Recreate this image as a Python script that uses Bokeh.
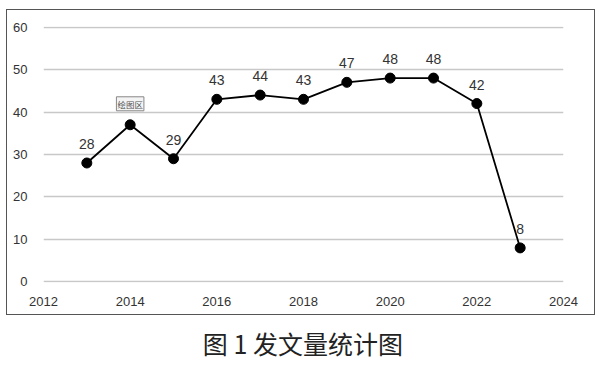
from bokeh.plotting import figure
from bokeh.layouts import column, row
from bokeh.models import ColumnDataSource, Range1d, FixedTicker, Label, LabelSet, Spacer
from bokeh.core.properties import value
from bokeh.embed import file_html
from bokeh.resources import INLINE

years = [2013, 2014, 2015, 2016, 2017, 2018, 2019, 2020, 2021, 2022, 2023]
counts = [28, 37, 29, 43, 44, 43, 47, 48, 48, 42, 8]
point_labels = ["28", "", "29", "43", "44", "43", "47", "48", "48", "42", "8"]
x_ticks = [2012, 2014, 2016, 2018, 2020, 2022, 2024]
y_ticks = [0, 10, 20, 30, 40, 50, 60]
caption = "图 1 发文量统计图"
tooltip_year = 2014
tooltip_value = 37
tooltip_text = "绘图区"

src = ColumnDataSource(dict(x=years, y=counts, t=point_labels))

p = figure(width=589, height=306, x_range=Range1d(2012, 2024), y_range=Range1d(-0.15, 60.15),
           output_backend="svg", toolbar_location=None,
           min_border_left=36, min_border_right=33, min_border_top=16, min_border_bottom=34,
           styles={"border": "1px solid #555555"})
p.outline_line_color = None
p.background_fill_color = "white"
p.border_fill_color = "white"

for ax in (p.xaxis[0], p.yaxis[0]):
    ax.axis_line_color = None
    ax.major_tick_line_color = None
    ax.minor_tick_line_color = None
    ax.major_label_text_font = "Liberation Sans"
    ax.major_label_text_font_size = "13px"
    ax.major_label_text_color = "#333333"
p.xaxis[0].ticker = FixedTicker(ticks=x_ticks)
p.yaxis[0].ticker = FixedTicker(ticks=y_ticks)
p.xaxis[0].major_label_standoff = 8
p.yaxis[0].major_label_standoff = 10

p.xgrid.grid_line_color = None
p.ygrid.ticker = FixedTicker(ticks=y_ticks)
p.ygrid.grid_line_color = "#c8c8c8"
p.ygrid.grid_line_width = 1.3

p.line("x", "y", source=src, line_color="black", line_width=1.8)
p.scatter("x", "y", source=src, size=10, fill_color="black", line_color="black")

labels = LabelSet(x="x", y="y", text="t", source=src, y_offset=14, text_align="center",
                  text_baseline="bottom", text_font=value("Liberation Sans"),
                  text_font_size=value("14px"), text_color="#333333")
p.add_layout(labels)

tip = Label(x=tooltip_year, y=tooltip_value, text=tooltip_text, y_offset=21, text_align="center",
            text_baseline="middle", text_font="Noto Sans CJK SC", text_font_size="8.5px",
            text_color="#555555", border_line_color="#888888", border_line_width=1,
            background_fill_color="#f4f4f4", padding=1)
p.add_layout(tip)

cap = figure(width=600, height=48, x_range=Range1d(0, 1), y_range=Range1d(0, 1),
             output_backend="svg", toolbar_location=None,
             min_border=0, min_border_left=0, min_border_right=0, min_border_top=0, min_border_bottom=0)
cap.axis.visible = False
cap.grid.visible = False
cap.outline_line_color = None
cap.text(x=[0.504], y=[0.42], text=[caption], text_align="center", text_baseline="middle",
         text_font=value("Noto Sans CJK SC"), text_font_size=value("25px"), text_color="#222222")

layout = column(Spacer(height=9), row(Spacer(width=6), p), cap, spacing=0)

open("out.html", "w").write(file_html(layout, INLINE))
